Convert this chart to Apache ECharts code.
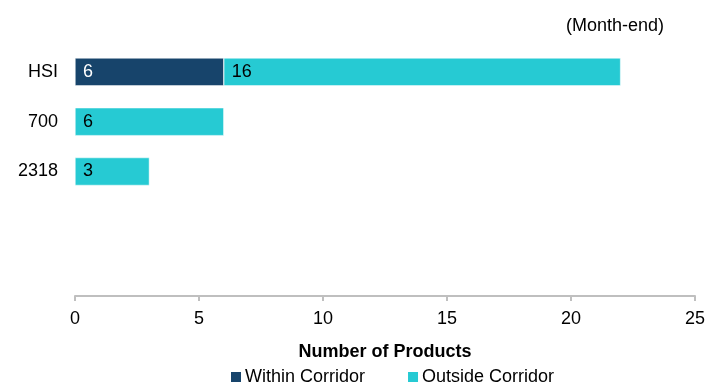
<!DOCTYPE html>
<html><head><meta charset="utf-8">
<script src="https://cdn.jsdelivr.net/npm/echarts@6/dist/echarts.min.js"></script>
<style>html,body{margin:0;padding:0;background:#fff}#c{width:708px;height:385px}</style>
</head><body><div id="c"></div>
<script>
const categories = ['HSI', '700', '2318', '', ''];
const withinCorridor = [6, null, null, null, null];
const outsideCorridor = [16, 6, 3, null, null];
const xTicks = [0, 5, 10, 15, 20, 25];

const chart = echarts.init(document.getElementById('c'), null, {renderer: 'canvas'});
const font = 'Arial, "Liberation Sans", sans-serif';
chart.setOption({
  animation: false,
  textStyle: {fontFamily: font},
  graphic: [{type: 'text', left: 566, top: 17, style: {text: '(Month-end)', font: '18px ' + font, fill: '#000'}}],
  grid: {left: 75, right: 13, top: 47, bottom: 89, containLabel: false},
  xAxis: {
    type: 'value', min: xTicks[0], max: xTicks[xTicks.length - 1], interval: 5,
    name: 'Number of Products', nameLocation: 'middle', nameGap: 47,
    nameTextStyle: {fontSize: 18, fontWeight: 'bold', color: '#000', fontFamily: font},
    axisLine: {show: true, lineStyle: {color: '#bfbfbf', width: 2}},
    axisTick: {show: true, length: 5, lineStyle: {color: '#bfbfbf', width: 2}},
    splitLine: {show: false},
    axisLabel: {fontSize: 18, color: '#000', margin: 14, fontFamily: font}
  },
  yAxis: {
    type: 'category', data: categories, inverse: true,
    axisLine: {show: false}, axisTick: {show: false}, splitLine: {show: false},
    axisLabel: {fontSize: 18, color: '#000', margin: 17, fontFamily: font}
  },
  legend: {
    left: 224, top: 363, itemWidth: 12, itemHeight: 12, itemGap: 41,
    icon: 'rect',
    textStyle: {fontSize: 18, color: '#000', padding: [0, 0, 0, -2], fontFamily: font},
    data: ['Within Corridor', 'Outside Corridor']
  },
  series: [
    {
      name: 'Within Corridor', type: 'bar', stack: 's', data: withinCorridor,
      barWidth: '56%',
      itemStyle: {color: '#17446b', borderColor: '#ffffff', borderWidth: 0.5},
      label: {show: true, position: 'insideLeft', offset: [3, 0], color: '#fff', fontSize: 18, fontFamily: font,
        formatter: p => p.value == null ? '' : p.value}
    },
    {
      name: 'Outside Corridor', type: 'bar', stack: 's', data: outsideCorridor,
      barWidth: '56%',
      itemStyle: {color: '#26cad3', borderColor: '#ffffff', borderWidth: 0.5},
      label: {show: true, position: 'insideLeft', offset: [3, 0], color: '#000', fontSize: 18, fontFamily: font,
        formatter: p => p.value == null ? '' : p.value}
    }
  ]
});
</script></body></html>
